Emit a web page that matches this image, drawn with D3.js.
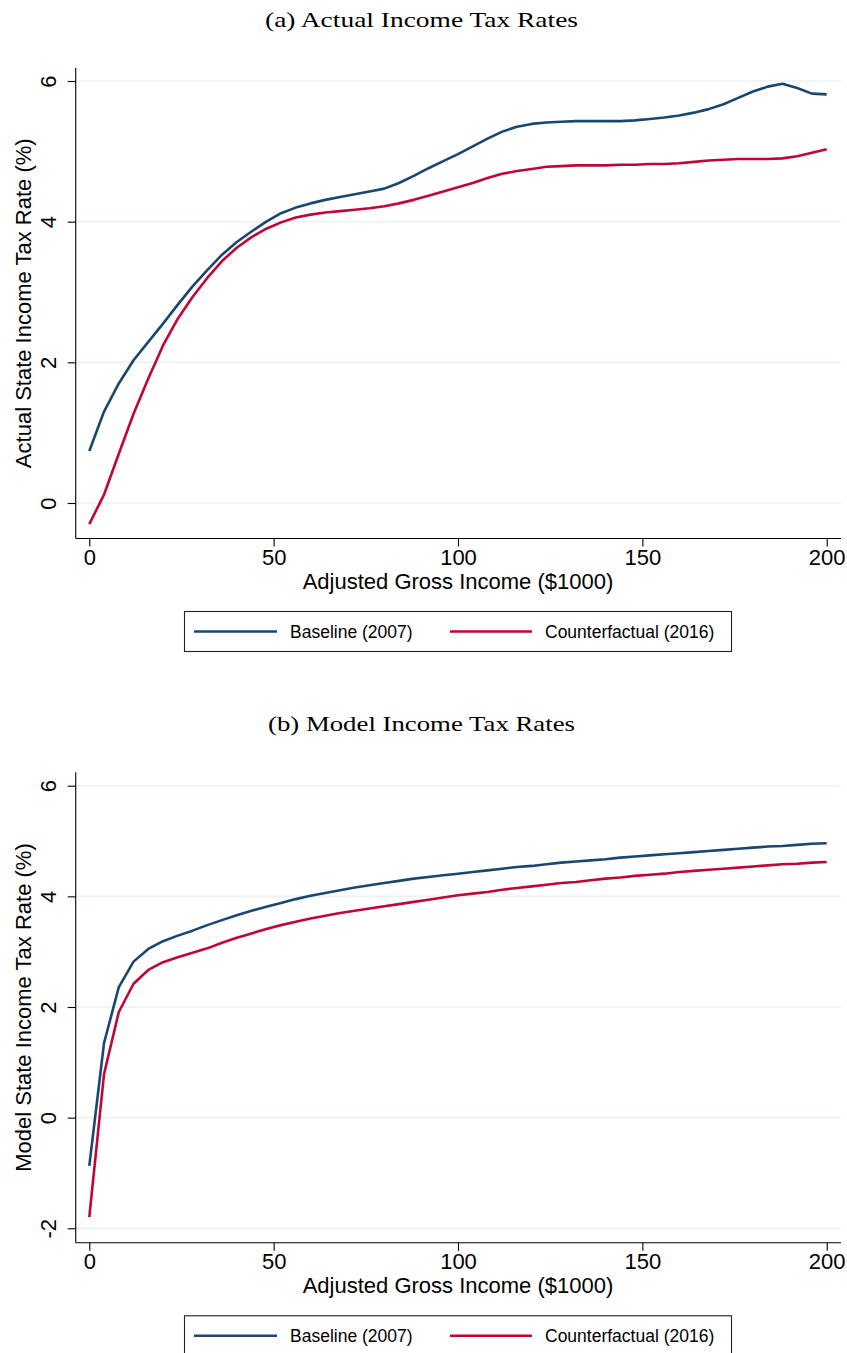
<!DOCTYPE html>
<html>
<head>
<meta charset="utf-8">
<script src="https://cdn.jsdelivr.net/npm/d3@7"></script>
<style>
  html, body { margin: 0; padding: 0; background: #fff; }
  svg { display: block; }
</style>
</head>
<body>
<svg id="chart" width="847" height="1353"></svg>
<script>
// ---------------- DATA ----------------
const income = [0,4,8,12,16,20,24,28,32,36,40,44,48,52,56,60,64,68,72,76,80,84,88,92,96,100,
  104,108,112,116,120,124,128,132,136,140,144,148,152,156,160,164,168,172,176,180,184,188,192,196,200];

const actualBaseline = [0.74,1.30,1.70,2.03,2.29,2.55,2.82,3.08,3.31,3.53,3.71,3.86,4.00,4.12,4.20,4.26,4.31,4.35,4.39,4.43,4.47,4.55,4.65,4.76,4.86,4.96,
  5.07,5.18,5.28,5.35,5.39,5.41,5.42,5.43,5.43,5.43,5.43,5.44,5.46,5.48,5.51,5.55,5.60,5.67,5.76,5.85,5.92,5.96,5.90,5.82,5.81];
const actualCounterfactual = [-0.30,0.12,0.70,1.27,1.77,2.24,2.62,2.93,3.20,3.44,3.63,3.78,3.90,3.99,4.06,4.10,4.13,4.15,4.17,4.19,4.22,4.26,4.31,4.37,4.43,4.49,
  4.55,4.62,4.68,4.72,4.75,4.78,4.79,4.80,4.80,4.80,4.81,4.81,4.82,4.82,4.83,4.85,4.87,4.88,4.89,4.89,4.89,4.90,4.93,4.98,5.03];

const modelBaseline = [-0.87,1.35,2.36,2.82,3.05,3.19,3.29,3.38,3.48,3.57,3.66,3.74,3.81,3.88,3.95,4.01,4.06,4.11,4.16,4.20,4.24,4.28,4.32,4.35,4.38,4.41,
  4.44,4.47,4.50,4.53,4.55,4.58,4.61,4.63,4.65,4.67,4.70,4.72,4.74,4.76,4.78,4.80,4.82,4.84,4.86,4.88,4.90,4.91,4.93,4.95,4.96];
const modelCounterfactual = [-1.80,0.79,1.91,2.42,2.67,2.81,2.90,2.98,3.06,3.16,3.25,3.33,3.41,3.48,3.54,3.60,3.65,3.70,3.74,3.78,3.82,3.86,3.90,3.94,3.98,4.02,
  4.05,4.08,4.12,4.15,4.18,4.21,4.24,4.26,4.29,4.32,4.34,4.37,4.39,4.41,4.44,4.46,4.48,4.50,4.52,4.54,4.56,4.58,4.59,4.61,4.62];

const xTicks = [0,50,100,150,200];
const yTicksA = [0,2,4,6];
const yTicksB = [-2,0,2,4,6];
const seriesNames = ["Baseline (2007)", "Counterfactual (2016)"];
const seriesColors = ["#1a476f", "#c10534"];
const titles = ["(a) Actual Income Tax Rates", "(b) Model Income Tax Rates"];
const yLabels = ["Actual State Income Tax Rate (%)", "Model State Income Tax Rate (%)"];
const xLabel = "Adjusted Gross Income ($1000)";

// ---------------- DRAW ----------------
const svg = d3.select("#chart");
const SANS = "'Liberation Sans', Arial, Helvetica, sans-serif";
const SERIF = "'Liberation Serif', 'Times New Roman', serif";
const fmt = d => String(d);

function panel(opts) {
  const g = svg.append("g").attr("transform", `translate(0,${opts.offsetY})`);
  const axL = 75.7, axR = 841, axT = 68, axB = 538.5;

  const x = d3.scaleLinear().domain([0, 200]).range([89.3, 826.7]);
  const y = d3.scaleLinear().domain(opts.yDomain).range(opts.yRange);

  // title
  g.append("text")
    .attr("x", 421.5).attr("y", 27)
    .attr("text-anchor", "middle")
    .attr("font-family", SERIF).attr("font-size", 22)
    .attr("textLength", opts.titleWidth).attr("lengthAdjust", "spacingAndGlyphs")
    .attr("fill", "#000")
    .text(opts.title);

  // gridlines
  g.append("g").selectAll("line").data(opts.yTicks).join("line")
    .attr("x1", axL).attr("x2", axR)
    .attr("y1", d => y(d)).attr("y2", d => y(d))
    .attr("stroke", "#eaf2f3").attr("stroke-width", 1.6);

  // lines
  const line = d3.line().x((d, i) => x(income[i])).y(d => y(d)).curve(d3.curveLinear);
  opts.series.forEach((s, k) => {
    g.append("path").datum(s)
      .attr("d", line)
      .attr("fill", "none")
      .attr("stroke", seriesColors[k])
      .attr("stroke-width", 2.6)
      .attr("stroke-linejoin", "round");
  });

  // x axis
  const xAxis = g.append("g").attr("transform", `translate(0,${axB})`)
    .call(d3.axisBottom(x).tickValues(xTicks).tickSize(8).tickPadding(3).tickFormat(fmt));
  xAxis.select(".domain").attr("d", `M${axL},0H${axR}`).attr("stroke", "#000").attr("stroke-width", 1.1);
  xAxis.selectAll(".tick line").attr("stroke", "#000").attr("stroke-width", 1.1);
  xAxis.selectAll(".tick text").attr("font-family", SANS).attr("font-size", 22).attr("fill", "#000");

  // y axis
  const yAxis = g.append("g").attr("transform", `translate(${axL},0)`)
    .call(d3.axisLeft(y).tickValues(opts.yTicks).tickSize(8).tickFormat(fmt));
  yAxis.select(".domain").attr("d", `M0,${axT}V${axB}`).attr("stroke", "#000").attr("stroke-width", 1.1);
  yAxis.selectAll(".tick line").attr("stroke", "#000").attr("stroke-width", 1.1);
  yAxis.selectAll(".tick text")
    .attr("font-family", SANS).attr("font-size", 22).attr("fill", "#000")
    .attr("transform", "rotate(-90)")
    .attr("x", 0).attr("y", -20).attr("dy", 0)
    .attr("text-anchor", "middle");

  // axis titles
  g.append("text")
    .attr("x", 458).attr("y", axB + 50)
    .attr("text-anchor", "middle")
    .attr("font-family", SANS).attr("font-size", 22).attr("fill", "#000")
    .text(xLabel);
  g.append("text")
    .attr("transform", `translate(31,${(axT + axB) / 2}) rotate(-90)`)
    .attr("text-anchor", "middle")
    .attr("font-family", SANS).attr("font-size", 22).attr("fill", "#000")
    .text(opts.yLabel);

  // legend
  const lg = g.append("g");
  lg.append("rect").attr("x", 184.5).attr("y", 611.5).attr("width", 547).attr("height", 40)
    .attr("fill", "#fff").attr("stroke", "#222").attr("stroke-width", 1.1);
  const items = [{x0: 194, x1: 277, tx: 290}, {x0: 450, x1: 532, tx: 545}];
  items.forEach((it, k) => {
    lg.append("line").attr("x1", it.x0).attr("x2", it.x1).attr("y1", 631.5).attr("y2", 631.5)
      .attr("stroke", seriesColors[k]).attr("stroke-width", 2.6);
    lg.append("text").attr("x", it.tx).attr("y", 631.5).attr("dy", "0.35em")
      .attr("font-family", SANS).attr("font-size", 17.5).attr("fill", "#000")
      .text(seriesNames[k]);
  });
}

panel({
  offsetY: 0,
  title: titles[0], titleWidth: 313,
  yLabel: yLabels[0],
  yDomain: [0, 6], yRange: [503, 81],
  yTicks: yTicksA,
  series: [actualBaseline, actualCounterfactual]
});
panel({
  offsetY: 704.3,
  title: titles[1], titleWidth: 307,
  yLabel: yLabels[1],
  yDomain: [-2, 6], yRange: [1228.3 - 704.3, 785.7 - 704.3],
  yTicks: yTicksB,
  series: [modelBaseline, modelCounterfactual]
});
</script>
</body>
</html>
